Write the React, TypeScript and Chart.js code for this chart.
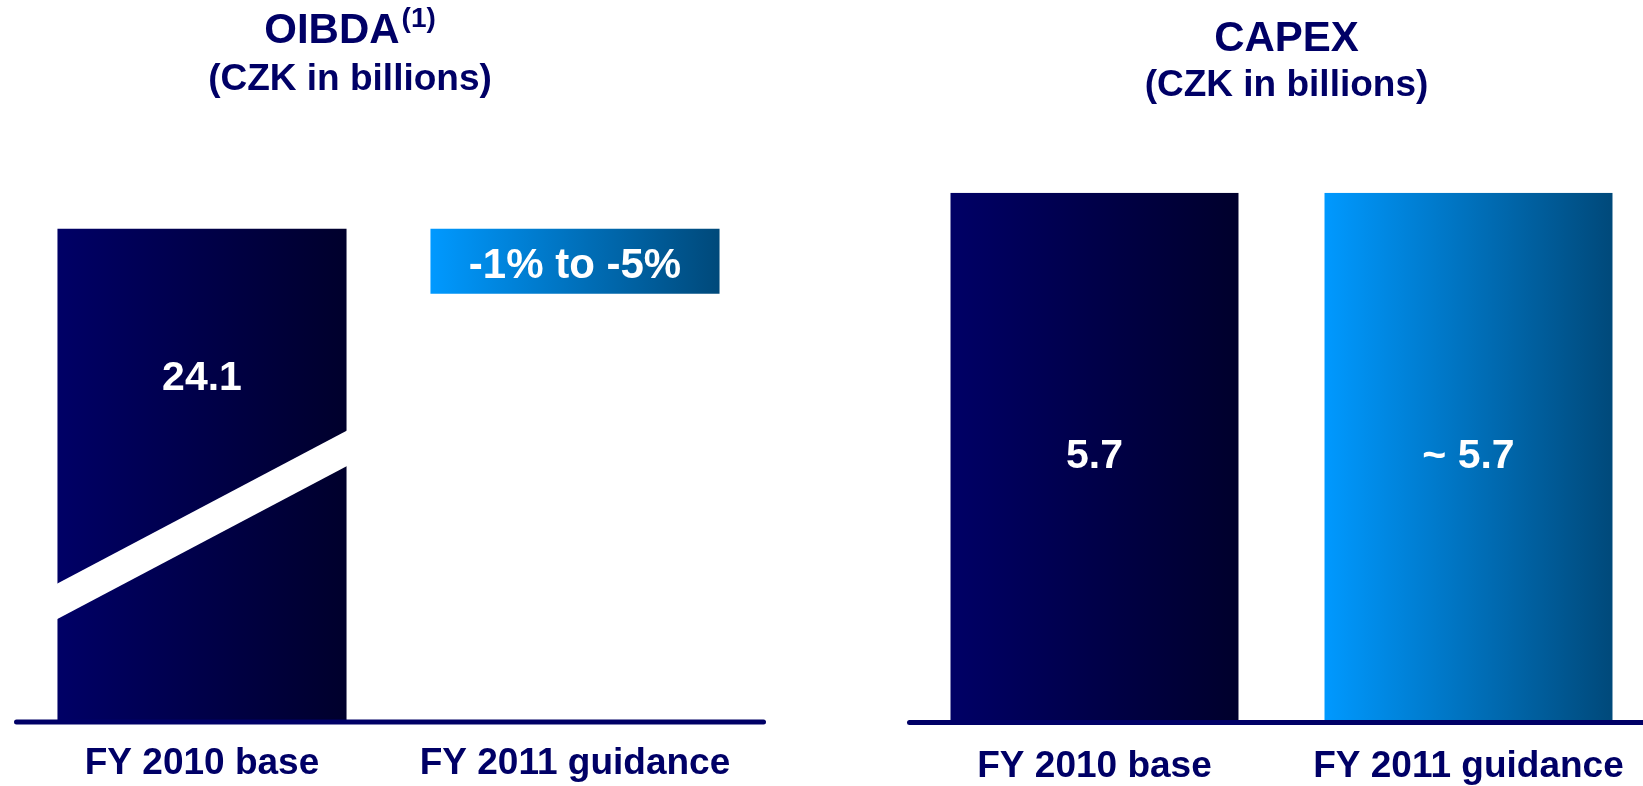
import React, { useEffect, useRef } from "react";
import { Chart, registerables } from "chart.js";

Chart.register(...registerables);

// ---- data ----
const categories = ["FY 2010 base", "FY 2011 guidance"];
const oibdaBase = 24.1;
const oibdaGuidanceBand = [20.9, 24.1]; // drawn box for the guidance range
const oibdaValueLabels = ["24.1", "-1% to -5%"];
const capexValues = [5.7, 5.7];
const capexValueLabels = ["5.7", "~ 5.7"];

const NAVY = "#000066";
const FONT = "'Liberation Sans', Arial, sans-serif";
const baseStops = ["#000066", "#00002C"];
const guidanceStops = ["#0099FF", "#00497A"];

function gradientFor(stops: string[], pct: number) {
  return (c: any) => {
    const chart = c.chart;
    const xs = chart.scales?.x;
    if (!chart.chartArea || !xs) return stops[0];
    const center = xs.getPixelForValue(c.dataIndex);
    const half = ((xs.width / categories.length) * pct) / 2;
    const g = chart.ctx.createLinearGradient(center - half, 0, center + half, 0);
    g.addColorStop(0, stops[0]);
    g.addColorStop(1, stops[1]);
    return g;
  };
}

const panelPlugin = {
  id: "panelText",
  afterDatasetsDraw(chart: any, _args: any, opts: any) {
    const ctx = chart.ctx;
    const meta = chart.getDatasetMeta(0);
    // broken-axis band
    if (opts.breakBar != null) {
      const el = meta.data[opts.breakBar];
      const { x, y, base, width } = el.getProps(["x", "y", "base", "width"], true);
      const l = x - width / 2 - 1;
      const r = x + width / 2 + 1;
      const h = base - y;
      ctx.save();
      ctx.fillStyle = "#ffffff";
      ctx.beginPath();
      ctx.moveTo(l, y + h * 0.7234);
      ctx.lineTo(r, y + h * 0.4105);
      ctx.lineTo(r, y + h * 0.4828);
      ctx.lineTo(l, y + h * 0.7957);
      ctx.closePath();
      ctx.fill();
      ctx.restore();
    }
    // value labels
    ctx.save();
    ctx.fillStyle = "#ffffff";
    ctx.textAlign = "center";
    ctx.textBaseline = "middle";
    (opts.valueLabels || []).forEach((t: string, i: number) => {
      const el = meta.data[i];
      const { x, y, base } = el.getProps(["x", "y", "base"], true);
      const f = opts.labelFrac[i];
      ctx.font = `bold ${opts.labelSize[i]}px ${FONT}`;
      ctx.fillText(t, x, y + (base - y) * f + (opts.labelDy ? opts.labelDy[i] : 0));
    });
    ctx.restore();
    // axis line
    const a = chart.chartArea;
    ctx.save();
    ctx.strokeStyle = NAVY;
    ctx.lineWidth = 5;
    ctx.lineCap = "round";
    ctx.beginPath();
    ctx.moveTo(a.left + opts.axisL, a.bottom + 2);
    ctx.lineTo(a.right + opts.axisR, a.bottom + 2);
    ctx.stroke();
    ctx.restore();
  },
  afterDraw(chart: any, _args: any, opts: any) {
    const ctx = chart.ctx;
    ctx.save();
    ctx.fillStyle = NAVY;
    ctx.textBaseline = "middle";
    ctx.font = `bold 42px ${FONT}`;
    const w1 = ctx.measureText(opts.title).width;
    let w2 = 0;
    if (opts.sup) {
      ctx.font = `bold 28px ${FONT}`;
      w2 = ctx.measureText(opts.sup).width + 2;
    }
    const start = opts.cx - (w1 + w2) / 2;
    ctx.textAlign = "left";
    ctx.font = `bold 42px ${FONT}`;
    ctx.fillText(opts.title, start, opts.titleY);
    if (opts.sup) {
      ctx.font = `bold 28px ${FONT}`;
      ctx.textBaseline = "alphabetic";
      ctx.fillText(opts.sup, start + w1 + 2, opts.titleY - 4);
    }
    ctx.textAlign = "center";
    ctx.textBaseline = "middle";
    ctx.font = `bold 37px ${FONT}`;
    ctx.fillText(opts.subtitle, opts.subX, opts.subY);
    ctx.restore();
  },
};

function makeConfig(
  data: any[],
  max: number,
  pct: number,
  padding: any,
  tickPad: number,
  panel: any
): any {
  return {
    type: "bar",
    data: {
      labels: categories,
      datasets: [
        {
          data,
          barPercentage: pct,
          categoryPercentage: 1,
          borderWidth: 0,
          backgroundColor: (c: any) =>
            gradientFor(c.dataIndex === 0 ? baseStops : guidanceStops, pct)(c),
        },
      ],
    },
    options: {
      responsive: false,
      animation: false,
      devicePixelRatio: 1,
      layout: { padding },
      plugins: {
        legend: { display: false },
        tooltip: { enabled: false },
        title: { display: false },
        panelText: panel,
      },
      scales: {
        x: {
          grid: { display: false, drawTicks: false },
          border: { display: false },
          ticks: {
            padding: tickPad,
            color: NAVY,
            font: { family: FONT, size: 37, weight: "bold", lineHeight: 1.2 },
            maxRotation: 0,
            autoSkip: false,
          },
        },
        y: { display: false, min: 0, max },
      },
    },
    plugins: [panelPlugin],
  };
}

function ChartBox(props: { config: any; w: number; h: number; left: number }) {
  const ref = useRef<HTMLCanvasElement | null>(null);
  useEffect(() => {
    if (!ref.current) return;
    const chart = new Chart(ref.current, props.config);
    return () => chart.destroy();
  }, []);
  return (
    <div style={{ position: "absolute", left: props.left, top: 0, width: props.w, height: props.h }}>
      <canvas ref={ref} width={props.w} height={props.h} style={{ width: props.w, height: props.h, display: "block" }} />
    </div>
  );
}

export default function App() {
  const oibdaData: any[] = [oibdaBase, oibdaGuidanceBand];
  const leftCfg = makeConfig(
    oibdaData,
    oibdaBase,
    0.775,
    { left: 15.5, right: 58.5, top: 228.4, bottom: 21.6 },
    22,
    {
      title: "OIBDA",
      sup: "(1)",
      subtitle: "(CZK in billions)",
      cx: 350,
      subX: 350,
      titleY: 31,
      subY: 80,
      breakBar: 0,
      valueLabels: oibdaValueLabels,
      labelFrac: [0.302, 0.5],
      labelDy: [2, 5],
      labelSize: [41, 42],
      axisL: 1,
      axisR: 2,
    }
  );
  const rightCfg = makeConfig(
    capexValues,
    5.7,
    0.77,
    { left: 87.5, right: 14.5, top: 192.8, bottom: 17 },
    24,
    {
      title: "CAPEX",
      sup: "",
      subtitle: "(CZK in billions)",
      cx: 466.5,
      subX: 466.5,
      titleY: 39,
      subY: 86,
      breakBar: null,
      valueLabels: capexValueLabels,
      labelFrac: [0.5, 0.5],
      labelDy: [0, 0],
      labelSize: [41, 41],
      axisL: 2,
      axisR: 40,
    }
  );
  return (
    <div
      style={{
        position: "fixed",
        left: 0,
        top: 0,
        width: 1643,
        height: 786,
        overflow: "hidden",
        background: "#ffffff",
      }}
    >
      <ChartBox config={leftCfg} w={820} h={830} left={0} />
      <ChartBox config={rightCfg} w={850} h={830} left={820} />
    </div>
  );
}
